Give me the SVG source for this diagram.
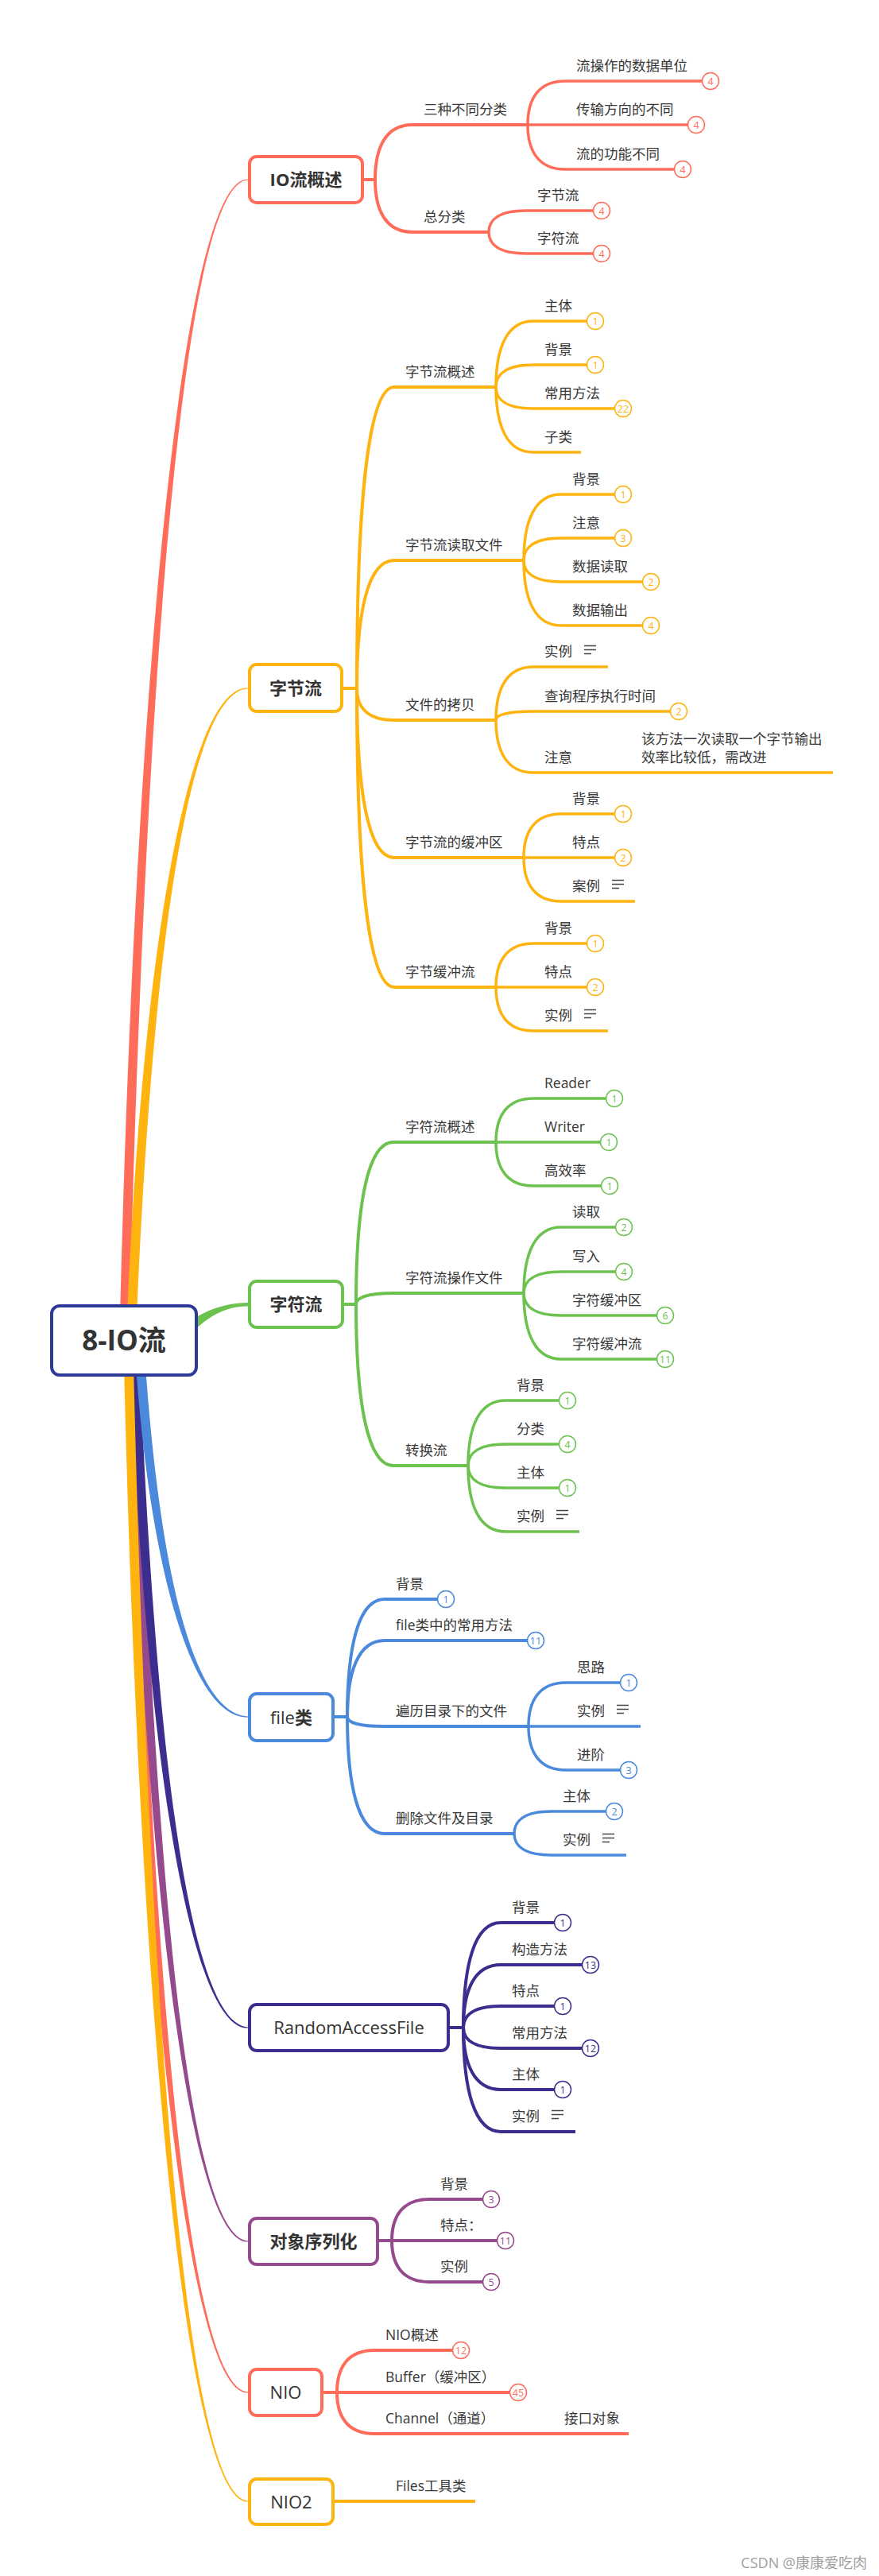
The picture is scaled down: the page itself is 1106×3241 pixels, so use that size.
<svg xmlns="http://www.w3.org/2000/svg" xmlns:xlink="http://www.w3.org/1999/xlink" width="1106" height="3241" viewBox="0 0 1106 3241">
<style>
text{font-family:"Open Sans","Noto Sans CJK SC",sans-serif}
.co{color:#FF6D5A}.or{color:#FFB30F}.gr{color:#6CC24F}.bl{color:#4A89DC}.in{color:#3B2E8E}.pu{color:#964A8E}.rt{color:#2E3A98}
.L path{fill:none;stroke:currentColor;stroke-width:4}
.L path.s{stroke-width:3.5}
.tp{fill:currentColor;stroke:none}
.box{fill:#fff;stroke:currentColor;stroke-width:4}
.m{font-size:22px;font-weight:700;fill:#333;text-anchor:middle}
.mr{font-weight:400}
.l{font-size:17.5px;fill:#383838}
.b circle{fill:#fff;stroke:currentColor;stroke-width:1.5}
.b text{fill:currentColor;font-size:12.5px;text-anchor:middle}
.wm{font-size:18px;fill:#a0a0a0;text-anchor:end}
</style>
<defs>
<path id="nt" d="M0 0.5h15M0 5.5h15M0 10.5h9" fill="none" stroke="#444" stroke-width="1.4"/>
</defs>
<rect width="1106" height="3241" fill="#fff"/>
<g id="connectors">
<g id="root-links">
<path class="tp co" d="M151 1655C172.7 797.6 234.5 222.5 312 225.4L312 226.6C234.5 229.5 184.7 797.6 163 1655Z"/>
<path class="tp or" d="M160 1655C180.4 1181.6 239 862.5 312 865.4L312 866.6C239 869.5 192.4 1181.6 172 1655Z"/>
<path class="tp gr" d="M238 1662C266 1645 289 1639 312 1639L312 1643.5C292 1643.5 272 1649 246 1672Z"/>
<path class="tp co" d="M157 1718C177.9 2493.2 237.5 3013.5 312 3010.6L312 3009.4C237.5 3006.5 189.9 2493.2 169 1718Z"/>
<path class="tp pu" d="M162 1718C182.2 2379.2 240 2823.5 312 2820.6L312 2819.4C240 2816.5 194.2 2379.2 174 1718Z"/>
<path class="tp in" d="M164 1718C183.9 2217.8 241 2554.5 312 2551.6L312 2550.4C241 2547.5 195.9 2217.8 176 1718Z"/>
<path class="tp or" d="M156 1718C177 2575.4 237 3150.5 312 3147.6L312 3146.4C237 3143.5 189 2575.4 168 1718Z"/>
<path class="tp bl" d="M171 1718C189.9 1983.2 244.5 2163.5 312 2160.6L312 2159.4C244.5 2156.5 201.9 1983.2 183 1718Z"/>
</g>
<g class="L co">
<path d="M458 226H472"/>
<path d="M472 226C472 184.6 486 157 519 157H664"/>
<path d="M472 226C472 265.6 486 292 519 292H615"/>
<path class="s" d="M664 157C664 124 678 102 711 102H884"/>
<path class="s" d="M664 157H866"/>
<path class="s" d="M664 157C664 190.4 678 213 711 213H849"/>
<path class="s" d="M615 292C615 275.8 629 265 662 265H747"/>
<path class="s" d="M615 292C615 308.2 629 319 662 319H747"/>
</g>
<g class="L or">
<path d="M432 866H449"/>
<path d="M449 866C449 638.6 463 487 496 487H624"/>
<path d="M449 866C449 769.4 463 705 496 705H659"/>
<path d="M449 866C449 890 463 906 496 906H624"/>
<path d="M449 866C449 993.8 463 1079 496 1079H659"/>
<path d="M449 866C449 1091.6 463 1242 496 1242H624"/>
<path class="s" d="M624 487C624 437.2 638 404 671 404H739"/>
<path class="s" d="M624 487C624 470.2 638 459 671 459H739"/>
<path class="s" d="M624 487C624 503.2 638 514 671 514H774"/>
<path class="s" d="M624 487C624 536.2 638 569 671 569H731"/>
<path class="s" d="M659 705C659 655.2 673 622 706 622H774"/>
<path class="s" d="M659 705C659 688.2 673 677 706 677H774"/>
<path class="s" d="M659 705C659 721.2 673 732 706 732H809"/>
<path class="s" d="M659 705C659 754.2 673 787 706 787H809"/>
<path class="s" d="M624 906C624 865.8 638 839 671 839H765"/>
<path class="s" d="M624 906C624 899.4 638 895 671 895H844"/>
<path class="s" d="M624 906C624 945.6 638 972 671 972H1048"/>
<path class="s" d="M659 1079C659 1046 673 1024 706 1024H774"/>
<path class="s" d="M659 1079H774"/>
<path class="s" d="M659 1079C659 1112 673 1134 706 1134H799"/>
<path class="s" d="M624 1242C624 1209 638 1187 671 1187H739"/>
<path class="s" d="M624 1242H739"/>
<path class="s" d="M624 1242C624 1275 638 1297 671 1297H765"/>
</g>
<g class="L gr">
<path d="M433 1641H448"/>
<path d="M448 1641C448 1518.6 462 1437 495 1437H624"/>
<path d="M448 1641C448 1632.6 462 1627 495 1627H659"/>
<path d="M448 1641C448 1762.8 462 1844 495 1844H589"/>
<path class="s" d="M624 1437C624 1404 638 1382 671 1382H763"/>
<path class="s" d="M624 1437H756"/>
<path class="s" d="M624 1437C624 1470 638 1492 671 1492H757"/>
<path class="s" d="M659 1627C659 1577.2 673 1544 706 1544H775"/>
<path class="s" d="M659 1627C659 1610.8 673 1600 706 1600H775"/>
<path class="s" d="M659 1627C659 1643.8 673 1655 706 1655H827"/>
<path class="s" d="M659 1627C659 1676.8 673 1710 706 1710H827"/>
<path class="s" d="M589 1844C589 1794.8 603 1762 636 1762H704"/>
<path class="s" d="M589 1844C589 1827.8 603 1817 636 1817H704"/>
<path class="s" d="M589 1844C589 1860.8 603 1872 636 1872H704"/>
<path class="s" d="M589 1844C589 1893.8 603 1927 636 1927H729"/>
</g>
<g class="L bl">
<path d="M421 2160H437"/>
<path d="M437 2160C437 2071.2 451 2012 484 2012H551"/>
<path d="M437 2160C437 2102.4 451 2064 484 2064H664"/>
<path d="M437 2160C437 2167.2 451 2172 484 2172H665"/>
<path d="M437 2160C437 2248.2 451 2307 484 2307H647"/>
<path class="s" d="M665 2172C665 2139 679 2117 712 2117H781"/>
<path class="s" d="M665 2172H806"/>
<path class="s" d="M665 2172C665 2205 679 2227 712 2227H781"/>
<path class="s" d="M647 2307C647 2290.2 661 2279 694 2279H763"/>
<path class="s" d="M647 2307C647 2323.2 661 2334 694 2334H788"/>
</g>
<g class="L in">
<path d="M566 2551H583"/>
<path d="M583 2551C583 2471.8 597 2419 630 2419H698"/>
<path d="M583 2551C583 2503.6 597 2472 630 2472H733"/>
<path d="M583 2551C583 2534.8 597 2524 630 2524H698"/>
<path d="M583 2551C583 2566.6 597 2577 630 2577H733"/>
<path d="M583 2551C583 2597.8 597 2629 630 2629H698"/>
<path d="M583 2551C583 2629.6 597 2682 630 2682H724"/>
</g>
<g class="L pu">
<path d="M477 2819H493"/>
<path d="M493 2819C493 2787.8 507 2767 540 2767H608"/>
<path d="M493 2819H626"/>
<path d="M493 2819C493 2850.2 507 2871 540 2871H608"/>
</g>
<g class="L co">
<path d="M407 3010H424"/>
<path d="M424 3010C424 2978.2 438 2957 471 2957H570"/>
<path d="M424 3010H642"/>
<path d="M424 3010C424 3041.2 438 3062 471 3062H791"/>
</g>
<g class="L or">
<path d="M421 3147H598"/>
</g>
</g>

<g id="root" class="rt"><rect class="box" x="65" y="1643" width="182" height="87" rx="10"/><text class="m" x="156" y="1699" style="font-size:35px">8-IO流</text></g>

<g id="io" class="co"><rect class="box" x="314" y="197" width="142" height="58" rx="9"/><text class="m" x="385" y="234">IO流概述</text></g>
<g id="io-a"><text class="l" x="533" y="144">三种不同分类</text></g>
<g id="io-a1"><text class="l" x="725" y="89">流操作的数据单位</text><g class="b co"><circle cx="894" cy="102" r="10.5"/><text x="894" y="106.5">4</text></g></g>
<g id="io-a2"><text class="l" x="725" y="144">传输方向的不同</text><g class="b co"><circle cx="876" cy="157" r="10.5"/><text x="876" y="161.5">4</text></g></g>
<g id="io-a3"><text class="l" x="725" y="200">流的功能不同</text><g class="b co"><circle cx="859" cy="213" r="10.5"/><text x="859" y="217.5">4</text></g></g>
<g id="io-b"><text class="l" x="533" y="279">总分类</text></g>
<g id="io-b1"><text class="l" x="676" y="252">字节流</text><g class="b co"><circle cx="757" cy="265" r="10.5"/><text x="757" y="269.5">4</text></g></g>
<g id="io-b2"><text class="l" x="676" y="306">字符流</text><g class="b co"><circle cx="757" cy="319" r="10.5"/><text x="757" y="323.5">4</text></g></g>

<g id="bs" class="or"><rect class="box" x="314" y="836" width="116" height="59" rx="9"/><text class="m" x="372" y="873.5">字节流</text></g>
<g id="bs-a"><text class="l" x="510" y="474">字节流概述</text></g>
<g id="bs-a1"><text class="l" x="685" y="391">主体</text><g class="b or"><circle cx="749" cy="404" r="10.5"/><text x="749" y="408.5">1</text></g></g>
<g id="bs-a2"><text class="l" x="685" y="446">背景</text><g class="b or"><circle cx="749" cy="459" r="10.5"/><text x="749" y="463.5">1</text></g></g>
<g id="bs-a3"><text class="l" x="685" y="501">常用方法</text><g class="b or"><circle cx="784" cy="514" r="10.5"/><text x="784" y="518.5">22</text></g></g>
<g id="bs-a4"><text class="l" x="685" y="556">子类</text></g>
<g id="bs-b"><text class="l" x="510" y="692">字节流读取文件</text></g>
<g id="bs-b1"><text class="l" x="720" y="609">背景</text><g class="b or"><circle cx="784" cy="622" r="10.5"/><text x="784" y="626.5">1</text></g></g>
<g id="bs-b2"><text class="l" x="720" y="664">注意</text><g class="b or"><circle cx="784" cy="677" r="10.5"/><text x="784" y="681.5">3</text></g></g>
<g id="bs-b3"><text class="l" x="720" y="719">数据读取</text><g class="b or"><circle cx="819" cy="732" r="10.5"/><text x="819" y="736.5">2</text></g></g>
<g id="bs-b4"><text class="l" x="720" y="774">数据输出</text><g class="b or"><circle cx="819" cy="787" r="10.5"/><text x="819" y="791.5">4</text></g></g>
<g id="bs-c"><text class="l" x="510" y="893">文件的拷贝</text></g>
<g id="bs-c1"><text class="l" x="685" y="826">实例</text><use href="#nt" x="735" y="812"/></g>
<g id="bs-c2"><text class="l" x="685" y="882">查询程序执行时间</text><g class="b or"><circle cx="854" cy="895" r="10.5"/><text x="854" y="899.5">2</text></g></g>
<g id="bs-c3"><text class="l" x="685" y="959">注意</text></g>
<g id="bs-c3a"><text class="l" x="807" y="936">该方法一次读取一个字节输出</text><text class="l" x="807" y="959">效率比较低，需改进</text></g>
<g id="bs-d"><text class="l" x="510" y="1066">字节流的缓冲区</text></g>
<g id="bs-d1"><text class="l" x="720" y="1011">背景</text><g class="b or"><circle cx="784" cy="1024" r="10.5"/><text x="784" y="1028.5">1</text></g></g>
<g id="bs-d2"><text class="l" x="720" y="1066">特点</text><g class="b or"><circle cx="784" cy="1079" r="10.5"/><text x="784" y="1083.5">2</text></g></g>
<g id="bs-d3"><text class="l" x="720" y="1121">案例</text><use href="#nt" x="770" y="1107"/></g>
<g id="bs-e"><text class="l" x="510" y="1229">字节缓冲流</text></g>
<g id="bs-e1"><text class="l" x="685" y="1174">背景</text><g class="b or"><circle cx="749" cy="1187" r="10.5"/><text x="749" y="1191.5">1</text></g></g>
<g id="bs-e2"><text class="l" x="685" y="1229">特点</text><g class="b or"><circle cx="749" cy="1242" r="10.5"/><text x="749" y="1246.5">2</text></g></g>
<g id="bs-e3"><text class="l" x="685" y="1284">实例</text><use href="#nt" x="735" y="1270"/></g>

<g id="cs" class="gr"><rect class="box" x="314" y="1612" width="117" height="58" rx="9"/><text class="m" x="372.5" y="1649">字符流</text></g>
<g id="cs-a"><text class="l" x="510" y="1424">字符流概述</text></g>
<g id="cs-a1"><text class="l" x="685" y="1369">Reader</text><g class="b gr"><circle cx="773" cy="1382" r="10.5"/><text x="773" y="1386.5">1</text></g></g>
<g id="cs-a2"><text class="l" x="685" y="1424">Writer</text><g class="b gr"><circle cx="766" cy="1437" r="10.5"/><text x="766" y="1441.5">1</text></g></g>
<g id="cs-a3"><text class="l" x="685" y="1479">高效率</text><g class="b gr"><circle cx="767" cy="1492" r="10.5"/><text x="767" y="1496.5">1</text></g></g>
<g id="cs-b"><text class="l" x="510" y="1614">字符流操作文件</text></g>
<g id="cs-b1"><text class="l" x="720" y="1531">读取</text><g class="b gr"><circle cx="785" cy="1544" r="10.5"/><text x="785" y="1548.5">2</text></g></g>
<g id="cs-b2"><text class="l" x="720" y="1587">写入</text><g class="b gr"><circle cx="785" cy="1600" r="10.5"/><text x="785" y="1604.5">4</text></g></g>
<g id="cs-b3"><text class="l" x="720" y="1642">字符缓冲区</text><g class="b gr"><circle cx="837" cy="1655" r="10.5"/><text x="837" y="1659.5">6</text></g></g>
<g id="cs-b4"><text class="l" x="720" y="1697">字符缓冲流</text><g class="b gr"><circle cx="837" cy="1710" r="10.5"/><text x="837" y="1714.5">11</text></g></g>
<g id="cs-c"><text class="l" x="510" y="1831">转换流</text></g>
<g id="cs-c1"><text class="l" x="650" y="1749">背景</text><g class="b gr"><circle cx="714" cy="1762" r="10.5"/><text x="714" y="1766.5">1</text></g></g>
<g id="cs-c2"><text class="l" x="650" y="1804">分类</text><g class="b gr"><circle cx="714" cy="1817" r="10.5"/><text x="714" y="1821.5">4</text></g></g>
<g id="cs-c3"><text class="l" x="650" y="1859">主体</text><g class="b gr"><circle cx="714" cy="1872" r="10.5"/><text x="714" y="1876.5">1</text></g></g>
<g id="cs-c4"><text class="l" x="650" y="1914">实例</text><use href="#nt" x="700" y="1900"/></g>

<g id="fc" class="bl"><rect class="box" x="314" y="2131" width="105" height="59" rx="9"/><text class="m" x="366.5" y="2168.5"><tspan class="mr">file</tspan>类</text></g>
<g id="fc-a"><text class="l" x="498" y="1999">背景</text><g class="b bl"><circle cx="561" cy="2012" r="10.5"/><text x="561" y="2016.5">1</text></g></g>
<g id="fc-b"><text class="l" x="498" y="2051">file类中的常用方法</text><g class="b bl"><circle cx="674" cy="2064" r="10.5"/><text x="674" y="2068.5">11</text></g></g>
<g id="fc-c"><text class="l" x="498" y="2159">遍历目录下的文件</text></g>
<g id="fc-c1"><text class="l" x="726" y="2104">思路</text><g class="b bl"><circle cx="791" cy="2117" r="10.5"/><text x="791" y="2121.5">1</text></g></g>
<g id="fc-c2"><text class="l" x="726" y="2159">实例</text><use href="#nt" x="776" y="2145"/></g>
<g id="fc-c3"><text class="l" x="726" y="2214">进阶</text><g class="b bl"><circle cx="791" cy="2227" r="10.5"/><text x="791" y="2231.5">3</text></g></g>
<g id="fc-d"><text class="l" x="498" y="2294">删除文件及目录</text></g>
<g id="fc-d1"><text class="l" x="708" y="2266">主体</text><g class="b bl"><circle cx="773" cy="2279" r="10.5"/><text x="773" y="2283.5">2</text></g></g>
<g id="fc-d2"><text class="l" x="708" y="2321">实例</text><use href="#nt" x="758" y="2307"/></g>

<g id="raf" class="in"><rect class="box" x="314" y="2522" width="250" height="58" rx="9"/><text class="m mr" x="439" y="2559">RandomAccessFile</text></g>
<g id="raf-a"><text class="l" x="644" y="2406">背景</text><g class="b in"><circle cx="708" cy="2419" r="10.5"/><text x="708" y="2423.5">1</text></g></g>
<g id="raf-b"><text class="l" x="644" y="2459">构造方法</text><g class="b in"><circle cx="743" cy="2472" r="10.5"/><text x="743" y="2476.5">13</text></g></g>
<g id="raf-c"><text class="l" x="644" y="2511">特点</text><g class="b in"><circle cx="708" cy="2524" r="10.5"/><text x="708" y="2528.5">1</text></g></g>
<g id="raf-d"><text class="l" x="644" y="2564">常用方法</text><g class="b in"><circle cx="743" cy="2577" r="10.5"/><text x="743" y="2581.5">12</text></g></g>
<g id="raf-e"><text class="l" x="644" y="2616">主体</text><g class="b in"><circle cx="708" cy="2629" r="10.5"/><text x="708" y="2633.5">1</text></g></g>
<g id="raf-f"><text class="l" x="644" y="2669">实例</text><use href="#nt" x="694" y="2655"/></g>

<g id="ser" class="pu"><rect class="box" x="314" y="2791" width="161" height="58" rx="9"/><text class="m" x="394.5" y="2828">对象序列化</text></g>
<g id="ser-a"><text class="l" x="554" y="2754">背景</text><g class="b pu"><circle cx="618" cy="2767" r="10.5"/><text x="618" y="2771.5">3</text></g></g>
<g id="ser-b"><text class="l" x="554" y="2806">特点：</text><g class="b pu"><circle cx="636" cy="2819" r="10.5"/><text x="636" y="2823.5">11</text></g></g>
<g id="ser-c"><text class="l" x="554" y="2858">实例</text><g class="b pu"><circle cx="618" cy="2871" r="10.5"/><text x="618" y="2875.5">5</text></g></g>

<g id="nio" class="co"><rect class="box" x="314" y="2981" width="91" height="58" rx="9"/><text class="m mr" x="359.5" y="3018">NIO</text></g>
<g id="nio-a"><text class="l" x="485" y="2944">NIO概述</text><g class="b co"><circle cx="580" cy="2957" r="10.5"/><text x="580" y="2961.5">12</text></g></g>
<g id="nio-b"><text class="l" x="485" y="2997">Buffer（缓冲区）</text><g class="b co"><circle cx="652" cy="3010" r="10.5"/><text x="652" y="3014.5">45</text></g></g>
<g id="nio-c"><text class="l" x="485" y="3049">Channel（通道）</text></g>
<g id="nio-c1"><text class="l" x="710" y="3049">接口对象</text></g>

<g id="nio2" class="or"><rect class="box" x="314" y="3119" width="105" height="57" rx="9"/><text class="m mr" x="366.5" y="3155.5">NIO2</text></g>
<g id="nio2-a"><text class="l" x="498" y="3134">Files工具类</text></g>

<text class="wm" x="1091" y="3231">CSDN @康康爱吃肉</text>
</svg>
